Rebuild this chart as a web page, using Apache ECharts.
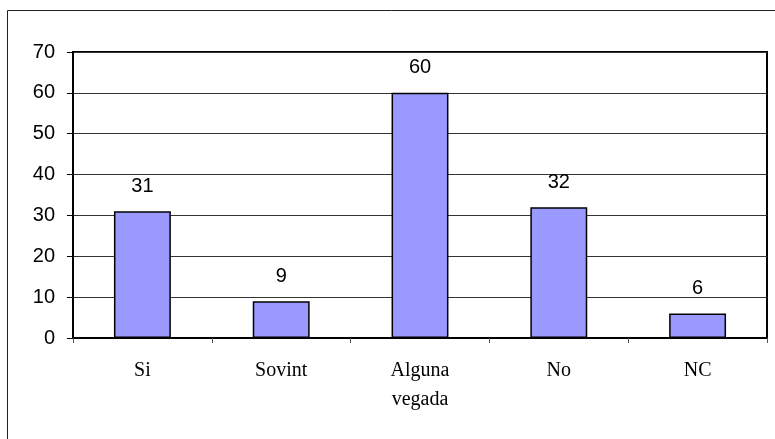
<!DOCTYPE html>
<html>
<head>
<meta charset="utf-8">
<script src="https://cdn.jsdelivr.net/npm/echarts@6/dist/echarts.min.js"></script>
<style>
  html, body { margin: 0; padding: 0; background: #fff; }
  #chart { width: 775px; height: 439px; }
</style>
</head>
<body>
<div id="chart"></div>
<script>
// Answer categories and counts
const categories = ['Si', 'Sovint', 'Alguna\nvegada', 'No', 'NC'];
const counts = [31, 9, 60, 32, 6];
const yTicks = { min: 0, max: 70, interval: 10 };

const chart = echarts.init(document.getElementById('chart'), null, { renderer: 'canvas' });

chart.setOption({
  animation: false,
  backgroundColor: '#ffffff',
  graphic: [{
    type: 'rect',
    shape: { x: 7.5, y: 10.5, width: 800, height: 460 },
    style: { fill: 'none', stroke: '#222', lineWidth: 1 },
    silent: true,
    z: -1
  }],
  grid: {
    left: 73, right: 8, top: 52, bottom: 101,
    show: true, borderColor: '#000', borderWidth: 2,
    backgroundColor: 'transparent'
  },
  xAxis: {
    type: 'category',
    data: categories,
    axisLine: { lineStyle: { color: '#000', width: 2 } },
    axisTick: { show: true, length: 5, lineStyle: { color: '#555', width: 1 }, alignWithLabel: false },
    axisLabel: {
      color: '#000', fontFamily: 'Liberation Serif', fontSize: 20,
      margin: 18, lineHeight: 29, interval: 0
    }
  },
  yAxis: {
    type: 'value',
    min: yTicks.min, max: yTicks.max, interval: yTicks.interval,
    axisLine: { show: true, lineStyle: { color: '#000', width: 2 } },
    axisTick: { show: true, length: 6, lineStyle: { color: '#000', width: 1 } },
    axisLabel: { color: '#000', fontFamily: 'Liberation Sans', fontSize: 20, margin: 18 },
    splitLine: { show: true, lineStyle: { color: '#333', width: 1 } }
  },
  series: [{
    type: 'bar',
    data: counts,
    barWidth: '41%',
    itemStyle: { color: '#9999FF', borderColor: '#000', borderWidth: 1.5 },
    label: {
      show: true, position: 'top', distance: 15,
      color: '#000', fontFamily: 'Liberation Sans', fontSize: 20
    }
  }]
});
</script>
</body>
</html>
